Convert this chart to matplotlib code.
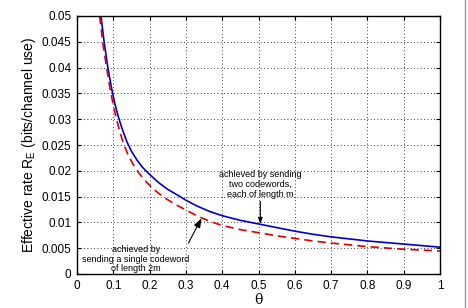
import matplotlib
matplotlib.use('Agg')
import matplotlib.pyplot as plt
from matplotlib.lines import Line2D

# Curve readings (theta, effective rate)
theta_two = [0.066, 0.075, 0.085, 0.096, 0.105, 0.115, 0.125, 0.137, 0.15, 0.165,
             0.18, 0.2, 0.225, 0.25, 0.284, 0.3, 0.33, 0.366, 0.4, 0.45, 0.5, 0.55,
             0.6, 0.65, 0.7, 0.8, 0.9, 1.0]
rate_two = [0.05, 0.0448, 0.04, 0.0357, 0.0328, 0.0302, 0.0280, 0.0257, 0.0238, 0.0221,
            0.0207, 0.0193, 0.0177, 0.0164, 0.0150, 0.0143, 0.0132, 0.0121, 0.0113,
            0.0104, 0.0097, 0.0090, 0.0083, 0.0077, 0.0072, 0.0064, 0.0058, 0.0052]

theta_single = [0.0625, 0.071, 0.082, 0.092, 0.1, 0.107, 0.117, 0.128, 0.14, 0.155,
                0.171, 0.19, 0.21, 0.238, 0.268, 0.3, 0.33, 0.366, 0.4, 0.45, 0.5,
                0.55, 0.6, 0.65, 0.7, 0.8, 0.9, 1.0]
rate_single = [0.05, 0.0448, 0.0398, 0.0355, 0.0328, 0.0305, 0.0278, 0.0253, 0.0232,
               0.0212, 0.0195, 0.0179, 0.0165, 0.0149, 0.0136, 0.0124, 0.0113, 0.0102,
               0.0094, 0.0086, 0.0080, 0.0074, 0.0069, 0.0064, 0.0060, 0.0053, 0.0048,
               0.00446]

xticks = [0, 0.1, 0.2, 0.3, 0.4, 0.5, 0.6, 0.7, 0.8, 0.9, 1]
xticklabels = ['0', '0.1', '0.2', '0.3', '0.4', '0.5', '0.6', '0.7', '0.8', '0.9', '1']
yticks = [0, 0.005, 0.01, 0.015, 0.02, 0.025, 0.03, 0.035, 0.04, 0.045, 0.05]
yticklabels = ['0', '0.005', '0.01', '0.015', '0.02', '0.025', '0.03', '0.035', '0.04', '0.045', '0.05']

plt.rcParams['font.family'] = ['Liberation Sans', 'DejaVu Sans']

fig = plt.figure(figsize=(4.68, 3.08), dpi=100)
ax = fig.add_axes([77/468, 1 - 274/308, (440-77)/468, (274-16)/308])

ax.plot(theta_two, rate_two, color='#0000cc', linewidth=1.2, linestyle='-')
ax.plot(theta_single, rate_single, color='#dd0000', linewidth=1.2, linestyle=(0, (5, 3)))

ax.set_xlim(0, 1)
ax.set_ylim(0, 0.05)
ax.set_xticks(xticks)
ax.set_xticklabels(xticklabels, fontsize=8.5)
ax.set_yticks(yticks)
ax.set_yticklabels(yticklabels, fontsize=8.5)
ax.tick_params(direction='in', length=3, width=0.8, top=True, right=True, pad=4)
ax.grid(True, linestyle=(0, (1, 3)), color='black', linewidth=0.6)
for s in ax.spines.values():
    s.set_linewidth(1.0)

ax.set_ylabel('Effective rate R$_\\mathregular{E}$ (bits/channel use)', fontsize=10, labelpad=3)
ax.set_xlabel('θ', fontsize=10, family='DejaVu Serif', labelpad=1)

# Annotations
arrow_style = dict(arrowstyle='-|>,head_width=0.2,head_length=0.55',
                   color='black', lw=0.8, shrinkA=0, shrinkB=0)
ax.annotate('achieved by sending\ntwo codewords,\neach of length m',
            xy=(0.505, 0.0097), xytext=(0.505, 0.0146),
            ha='center', va='bottom', fontsize=6.5, linespacing=1.1,
            arrowprops=arrow_style)
ax.annotate('', xy=(0.343, 0.0108), xytext=(0.307, 0.006), arrowprops=arrow_style)
ax.text(0.163, 0.0029, 'achieved by\nsending a single codeword\nof length 2m',
        ha='center', va='center', fontsize=6.5, linespacing=1.1)

# right border line of the original image
fig.add_artist(Line2D([465/468, 465/468], [0, 1], color='#999999', linewidth=1.0,
                      transform=fig.transFigure))

fig.savefig('out.png', dpi=100)
